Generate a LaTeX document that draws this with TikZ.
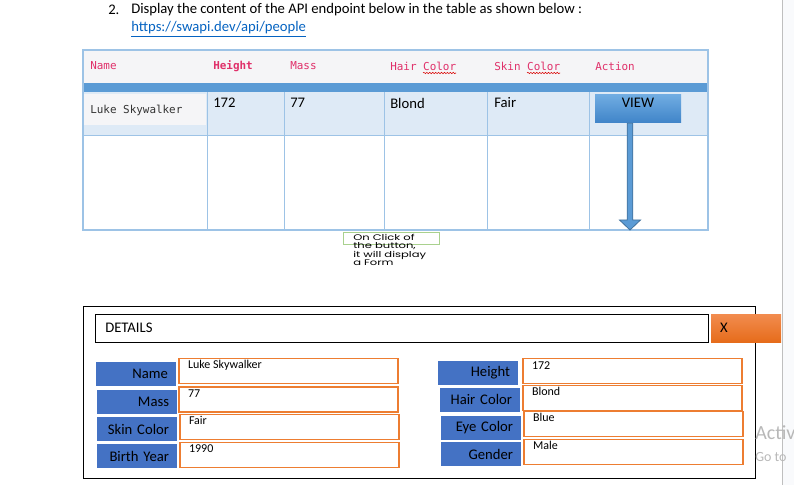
\documentclass[tikz,border=0pt]{standalone}
\usepackage{fontspec}
\setmainfont{Carlito}
\newfontfamily\codefont{DejaVu Sans Mono}
\newfontfamily\notefont[FakeStretch=1.42]{Poppins}
\usetikzlibrary{calc,decorations.pathmorphing}

\definecolor{tblline}{HTML}{9DC3E6}
\definecolor{hdrfill}{HTML}{F5F5F7}
\definecolor{band}{HTML}{5B9BD5}
\definecolor{rowfill}{HTML}{DEEAF6}
\definecolor{codered}{HTML}{E0306A}
\definecolor{lblblue}{HTML}{4472C4}
\definecolor{orng}{HTML}{ED7D31}
\definecolor{linkblue}{HTML}{0563C1}
\definecolor{notegreen}{HTML}{A9D18E}
\definecolor{arrowedge}{HTML}{41719C}
\definecolor{sidefill}{HTML}{F9FAFC}
\definecolor{viewtop}{HTML}{70ACE2}
\definecolor{viewbot}{HTML}{3F84C8}
\definecolor{xtop}{HTML}{F28C4F}
\definecolor{xbot}{HTML}{E66C1B}

\begin{document}
\begin{tikzpicture}[x=0.75pt, y=-0.75pt,
    txt/.style={anchor=west, inner sep=0pt, font=\fontsize{11}{13}\selectfont},
    hdr/.style={anchor=west, inner sep=0pt, text=codered, font=\codefont\fontsize{8.2}{10}\selectfont},
    lbl/.style={fill=lblblue, minimum height=18pt, text width=48pt, inner xsep=6pt, inner ysep=0pt, align=right, font=\fontsize{11}{13}\selectfont},
    field/.style={draw=orng, line width=1.1pt, minimum width=164.25pt, minimum height=18.75pt, inner sep=0pt},
    val/.style={anchor=west, inner sep=0pt, font=\fontsize{9}{11}\selectfont},
    squiggle/.style={red!85!black, decorate, decoration={snake, amplitude=0.5pt, segment length=2.2pt}}]
    \useasboundingbox (0,0) rectangle (794,485);
    \fill[sidefill] (782,0) rectangle (794,485);
    \draw[black!25] (782,0) -- (782,485);

    % heading
    \node[txt] (num) at (108,10) {2.};
    \node[txt] (title) at (131,10) {Display the content of the API endpoint below in the table as shown below :};
    \node[txt, text=linkblue] (link) at (131,29) {\underline{https://swapi.dev/api/people}};

    % table
    \fill[hdrfill] (83,50) rectangle (708,83);
    \fill[band] (83,83) rectangle (708,92);
    \fill[rowfill] (83,92) rectangle (708,135);
    \fill[hdrfill] (84,94) rectangle (206,125);
    \draw[tblline] (83,135) -- (708,135);
    \draw[tblline] (207,92) -- (207,230); \draw[tblline] (284,92) -- (284,230); \draw[tblline] (384,92) -- (384,230);
    \draw[tblline] (487,92) -- (487,230); \draw[tblline] (589,92) -- (589,230);
    \draw[tblline, line width=0.8pt] (83,50) rectangle (708,230);

    \node[hdr] (hname) at (90,66) {Name};
    \node[hdr, font=\codefont\bfseries\fontsize{8.2}{10}\selectfont] (hheight) at (213,66) {Height};
    \node[hdr] (hmass) at (290,66) {Mass};
    \node[hdr] (hhair) at (390,66) {Hair Color};
    \node[hdr] (hskin) at (494,66) {Skin Color};
    \node[hdr] (haction) at (595,66) {Action};
    \draw[squiggle] (423,73) -- (456,73);
    \draw[squiggle] (527,73) -- (560,73);

    \node[hdr, text=black!80] (cname) at (90,110) {Luke Skywalker};
    \node[txt] (cheight) at (213,103) {172};
    \node[txt] (cmass) at (290,103) {77};
    \node[txt] (chair) at (390,103) {Blond};
    \node[txt] (cskin) at (494,103) {Fair};

    \node[top color=viewtop, bottom color=viewbot, text height=8pt, text depth=10pt,
          minimum width=64.5pt, inner ysep=1.5pt, font=\fontsize{11}{13}\selectfont] (view) at (638,109) {VIEW};

    \coordinate (tip) at (630,230);
    \draw[arrowedge, fill=band, line width=0.6pt]
        ($(view.south -| tip)+(-2.8,0)$) -- ($(tip)+(-2.8,-10)$) -- ($(tip)+(-10.5,-10)$) -- (tip)
        -- ($(tip)+(10.5,-10)$) -- ($(tip)+(2.8,-10)$) -- ($(view.south -| tip)+(2.8,0)$) -- cycle;

    % note
    \node[draw=notegreen, line width=0.8pt, minimum width=72pt, minimum height=9.5pt, inner sep=0pt] (notebox) at (391.5,238.5) {};
    \node[anchor=north west, inner sep=0pt, align=left, font=\notefont\fontsize{6.1}{6.2}\selectfont] (note) at (353,234) {On Click of\\the button,\\it will display\\a Form};

    % details form
    \draw[line width=0.6pt] (83,306) rectangle (755,478);
    \draw[line width=0.6pt] (95,314) rectangle (708,342);
    \node[txt] (details) at (105,328) {DETAILS};
    \node[top color=xtop, bottom color=xbot, minimum height=21pt, text width=39pt,
          inner xsep=6.75pt, align=left, font=\fontsize{11}{13}\selectfont] (closebtn) at (746,328) {X};

    \node[lbl] (lname) at (136,374) {Name};
    \node[lbl] (lmass) at (137,402) {Mass};
    \node[lbl] (lskin) at (137,429) {Skin Color};
    \node[lbl] (lbirth) at (137,456) {Birth Year};
    \node[lbl] (lheight) at (478,373) {Height};
    \node[lbl] (lhair) at (480,399.5) {Hair Color};
    \node[lbl] (leye) at (481,428) {Eye Color};
    \node[lbl] (lgender) at (481,454) {Gender};

    \node[field] (fname) at (288.5,371) {};
    \node[field] (fmass) at (288.5,399.5) {};
    \node[field] (fskin) at (289.5,427) {};
    \node[field] (fbirth) at (289.5,455) {};
    \node[field] (fheight) at (632.5,371) {};
    \node[field] (fhair) at (632.5,398) {};
    \node[field] (feye) at (633.5,424) {};
    \node[field] (fgender) at (633.5,452) {};

    \node[val] (vname) at ($(fname.north west)+(9.5,8)$) {Luke Skywalker};
    \node[val] (vmass) at ($(fmass.north west)+(9.5,7)$) {77};
    \node[val] (vskin) at ($(fskin.north west)+(9.5,7)$) {Fair};
    \node[val] (vbirth) at ($(fbirth.north west)+(9.5,6.5)$) {1990};
    \node[val] (vheight) at ($(fheight.north west)+(9.5,7.5)$) {172};
    \node[val] (vhair) at ($(fhair.north west)+(9.5,7)$) {Blond};
    \node[val] (veye) at ($(feye.north west)+(9.5,7)$) {Blue};
    \node[val] (vgender) at ($(fgender.north west)+(9.5,7)$) {Male};

    % watermark
    \node[anchor=west, inner sep=0pt, text=black!28, font=\fontsize{15}{17}\selectfont] (wm1) at (755,433) {Activ};
    \node[anchor=west, inner sep=0pt, text=black!28, font=\fontsize{10.5}{12}\selectfont] (wm2) at (755,457) {Go to};
\end{tikzpicture}
\end{document}
